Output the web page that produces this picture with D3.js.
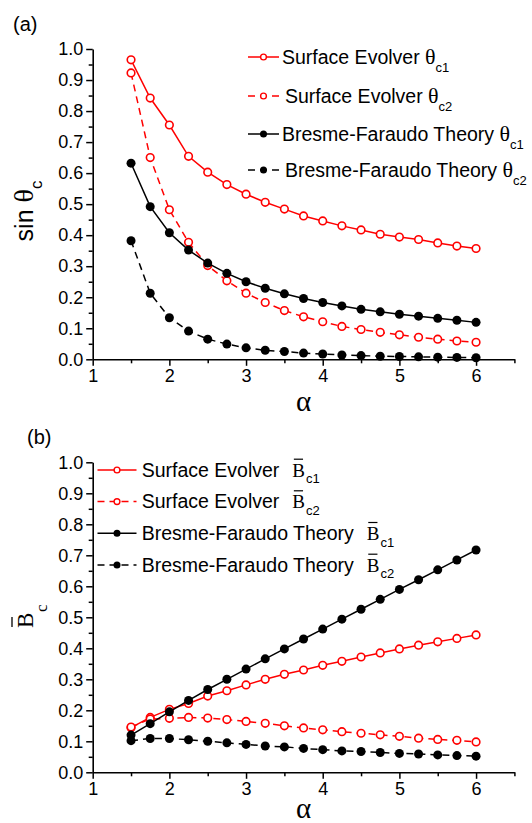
<!DOCTYPE html>
<meta charset="utf-8">
<script src="https://d3js.org/d3.v7.min.js"></script>
<style type="text/css">
  body { margin: 0; background: #fff; }
  text { font-family: "Liberation Sans", Arial, sans-serif; }
</style>
<body>
</body>
<script>

var alpha = [1.5, 1.75, 2, 2.25, 2.5, 2.75, 3, 3.25, 3.5, 3.75, 4, 4.25, 4.5, 4.75, 5, 5.25, 5.5, 5.75, 6];

// panel (a): sin theta_c
var seTheta1 = [0.965, 0.842, 0.755, 0.654, 0.603, 0.563, 0.532, 0.506, 0.484, 0.462, 0.446, 0.430, 0.417, 0.403, 0.394, 0.386, 0.375, 0.365, 0.357];
var seTheta2 = [0.923, 0.650, 0.482, 0.377, 0.302, 0.253, 0.213, 0.183, 0.157, 0.137, 0.121, 0.106, 0.096, 0.087, 0.079, 0.071, 0.065, 0.059, 0.055];
var bfTheta1 = [0.632, 0.492, 0.408, 0.352, 0.310, 0.277, 0.250, 0.229, 0.211, 0.196, 0.183, 0.172, 0.161, 0.153, 0.145, 0.139, 0.132, 0.126, 0.119];
var bfTheta2 = [0.382, 0.213, 0.134, 0.091, 0.065, 0.049, 0.037, 0.029, 0.025, 0.020, 0.017, 0.014, 0.012, 0.010, 0.009, 0.008, 0.007, 0.006, 0.005];

// panel (b): B_c
var seB1 = [0.144, 0.177, 0.203, 0.222, 0.246, 0.263, 0.282, 0.300, 0.316, 0.330, 0.345, 0.358, 0.372, 0.385, 0.398, 0.410, 0.421, 0.432, 0.443];
var seB2 = [0.146, 0.172, 0.174, 0.177, 0.175, 0.170, 0.164, 0.158, 0.150, 0.143, 0.137, 0.131, 0.126, 0.121, 0.116, 0.110, 0.106, 0.103, 0.098];
var bfB1 = [0.120, 0.157, 0.195, 0.232, 0.267, 0.300, 0.333, 0.366, 0.398, 0.430, 0.462, 0.494, 0.526, 0.558, 0.590, 0.621, 0.653, 0.685, 0.717];
var bfB2 = [0.102, 0.109, 0.109, 0.105, 0.100, 0.095, 0.090, 0.085, 0.082, 0.077, 0.073, 0.069, 0.067, 0.064, 0.061, 0.059, 0.056, 0.054, 0.052];

var xTicks = [1, 2, 3, 4, 5, 6];
var xMinor = [1.5, 2.5, 3.5, 4.5, 5.5, 6.5];
var yTicks = [0, 0.1, 0.2, 0.3, 0.4, 0.5, 0.6, 0.7, 0.8, 0.9, 1.0];
var yMinor = [0.05, 0.15, 0.25, 0.35, 0.45, 0.55, 0.65, 0.75, 0.85, 0.95];

var seriesLabels = ["Surface Evolver", "Surface Evolver", "Bresme-Faraudo Theory", "Bresme-Faraudo Theory"];
var subLabels = ["c1", "c2", "c1", "c2"];

var styles = [
  {color: "#ff0000", dash: null, open: true},
  {color: "#ff0000", dash: "7,5", open: true},
  {color: "#000000", dash: null, open: false},
  {color: "#000000", dash: "7,5", open: false}
];

var svg = d3.select("body").append("svg")
    .attr("width", 532)
    .attr("height", 823);

var x = d3.scaleLinear().domain([1, 6.5]).range([92.7, 514.4]);

function panel(top, bottom, series, titleOffset) {
  var y = d3.scaleLinear().domain([0, 1]).range([bottom, top]);
  var g = svg.append("g");

  // minor ticks
  g.append("g")
      .attr("transform", "translate(0," + bottom + ")")
      .call(d3.axisBottom(x).tickValues(xMinor).tickSize(4).tickSizeOuter(0).tickFormat(""))
      .call(function(a) { a.select(".domain").remove(); });
  g.append("g")
      .attr("transform", "translate(" + x(1) + ",0)")
      .call(d3.axisLeft(y).tickValues(yMinor).tickSize(4).tickSizeOuter(0).tickFormat(""))
      .call(function(a) { a.select(".domain").remove(); });

  var xa = g.append("g")
      .attr("transform", "translate(0," + bottom + ")")
      .call(d3.axisBottom(x).tickValues(xTicks).tickSize(6.5).tickSizeOuter(0).tickPadding(3).tickFormat(d3.format("d")));
  var ya = g.append("g")
      .attr("transform", "translate(" + x(1) + ",0)")
      .call(d3.axisLeft(y).tickValues(yTicks).tickSize(6.5).tickSizeOuter(0).tickPadding(3).tickFormat(d3.format(".1f")));

  g.selectAll(".tick line").attr("stroke-width", 1.5);
  g.selectAll(".domain").attr("stroke-width", 1.6);
  [xa, ya].forEach(function(a) {
    a.attr("font-size", 18).attr("font-family", "Liberation Sans, Arial, sans-serif");
    a.selectAll("text").attr("fill", "#000");
  });

  var line = d3.line()
      .x(function(d, i) { return x(alpha[i]); })
      .y(function(d) { return y(d); });

  series.forEach(function(vals, k) {
    var s = styles[k];
    g.append("path")
        .datum(vals)
        .attr("fill", "none")
        .attr("stroke", s.color)
        .attr("stroke-width", 1.5)
        .attr("stroke-dasharray", s.dash)
        .attr("d", line);
    g.selectAll(".pt" + k)
        .data(vals)
      .enter().append("circle")
        .attr("cx", function(d, i) { return x(alpha[i]); })
        .attr("cy", function(d) { return y(d); })
        .attr("r", s.open ? 3.8 : 4.5)
        .attr("fill", s.open ? "#fff" : s.color)
        .attr("stroke", s.color)
        .attr("stroke-width", s.open ? 1.6 : 0);
  });

  // x title
  g.append("text")
      .attr("x", (x(1) + x(6.5)) / 2)
      .attr("y", bottom + titleOffset)
      .attr("text-anchor", "middle")
      .style("font-family", "Liberation Serif, serif")
      .attr("font-size", 29)
      .text("\u03b1");
  return g;
}

function legendSymbol(g, k, x0, x1, cy, r) {
  var s = styles[k];
  g.append("line")
      .attr("x1", x0).attr("x2", x1)
      .attr("y1", cy).attr("y2", cy)
      .attr("stroke", s.color)
      .attr("stroke-width", 1.5)
      .attr("stroke-dasharray", s.dash ? "7,5" : null);
  g.append("circle")
      .attr("cx", (x0 + x1) / 2).attr("cy", cy)
      .attr("r", s.open ? r - 0.6 : r)
      .attr("fill", s.open ? "#fff" : s.color)
      .attr("stroke", s.color)
      .attr("stroke-width", s.open ? 1.4 : 0);
}

// ---------- panel (a)
var ga = panel(49, 359.3, [seTheta1, seTheta2, bfTheta1, bfTheta2], 52);

svg.append("text").attr("x", 13).attr("y", 31).attr("font-size", 20).text("(a)");

var yla = svg.append("text")
    .attr("transform", "translate(33,211) rotate(-90)")
    .attr("text-anchor", "middle")
    .attr("font-size", 25);
yla.append("tspan").text("sin ");
yla.append("tspan").style("font-family", "Liberation Serif, serif").attr("font-size", 28).text("\u03b8");
yla.append("tspan").attr("font-size", 17).attr("dy", 9).text("c");

var legA = [64, 103, 141, 177];
legA.forEach(function(by, k) {
  legendSymbol(svg, k, 248, 279, by - 7, 3.5);
  var t = svg.append("text")
      .attr("x", k % 2 ? 285 : 282)
      .attr("y", by)
      .attr("font-size", 19.5);
  t.append("tspan").text(seriesLabels[k] + " ");
  t.append("tspan").style("font-family", "Liberation Serif, serif").attr("font-size", 22).text("\u03b8");
  t.append("tspan").attr("font-size", 13).attr("dy", 8).text(subLabels[k]);
});

// ---------- panel (b)
var gb = panel(462.3, 772.3, [seB1, seB2, bfB1, bfB2], 46);

svg.append("text").attr("x", 27).attr("y", 444).attr("font-size", 20).text("(b)");

var ylb = svg.append("g").attr("transform", "translate(33,628) rotate(-90)");
ylb.append("text")
    .style("font-family", "Liberation Serif, serif")
    .attr("font-size", 23)
    .text("B");
ylb.append("text")
    .attr("x", 16).attr("y", 14)
    .style("font-family", "Liberation Serif, serif")
    .attr("font-size", 17)
    .text("c");
ylb.append("line")
    .attr("x1", 1).attr("x2", 11)
    .attr("y1", -21).attr("y2", -21)
    .attr("stroke", "#000").attr("stroke-width", 1.3);

var legB = [476.7, 508.3, 540, 571.7];
legB.forEach(function(by, k) {
  legendSymbol(svg, k, 97.5, 136.5, by - 6.7, 3.5);
  var t = svg.append("text")
      .attr("x", 141.7)
      .attr("y", by)
      .attr("font-size", 19.5)
      .text(seriesLabels[k]);
  var bx = 141.7 + t.node().getComputedTextLength() + 13;
  var b = svg.append("text")
      .attr("x", bx).attr("y", by)
      .style("font-family", "Liberation Serif, serif")
      .attr("font-size", 19)
      .text("B");
  var bw = b.node().getComputedTextLength();
  svg.append("line")
      .attr("x1", bx + 1.5).attr("x2", bx + bw - 2)
      .attr("y1", by - 17.5).attr("y2", by - 17.5)
      .attr("stroke", "#000").attr("stroke-width", 1.2);
  svg.append("text")
      .attr("x", bx + bw + 1).attr("y", by + 6.6)
      .attr("font-size", 13)
      .text(subLabels[k]);
});

</script>
